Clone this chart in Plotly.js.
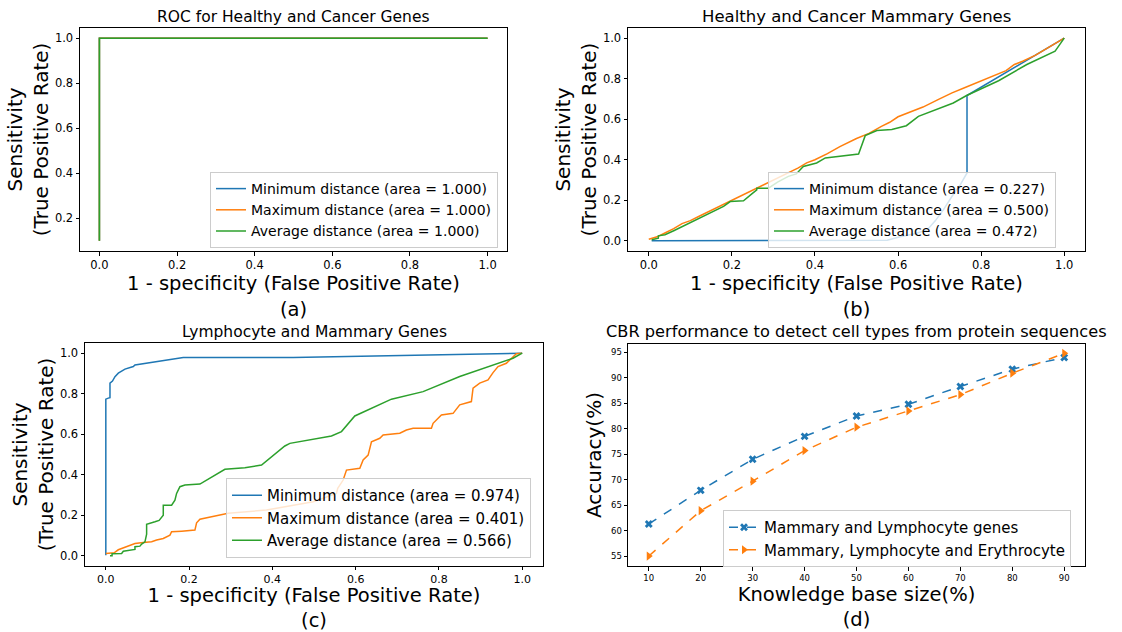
<!DOCTYPE html>
<html>
<head>
<meta charset="utf-8">
<script src="https://cdn.plot.ly/plotly-3.0.1.min.js"></script>
<style>
  html, body { margin: 0; padding: 0; background: #ffffff; }
  #chart { width: 1122px; height: 632px; }
</style>
</head>
<body>
<div id="chart"></div>
<script>
// ---- (a) ROC for Healthy and Cancer Genes ----
const aMinFpr = [0, 0, 1];
const aMinTpr = [0.1, 1, 1];
const aMaxFpr = [0, 0, 1];
const aMaxTpr = [0.1, 1, 1];
const aAvgFpr = [0, 0, 1];
const aAvgTpr = [0.1, 1, 1];

// ---- (b) Healthy and Cancer Mammary Genes ----
const bMinFpr = [0.007, 0.574, 0.605, 0.64, 0.67, 0.69, 0.709, 0.73, 0.75, 0.766, 0.766, 1.0];
const bMinTpr = [0.0, 0.003, 0.02, 0.035, 0.054, 0.1, 0.153, 0.22, 0.277, 0.335, 0.717, 1.0];
const bMaxFpr = [0.0, 0.02, 0.04, 0.06, 0.08, 0.1, 0.12, 0.15, 0.18, 0.2, 0.23, 0.26, 0.3, 0.33, 0.36, 0.38, 0.4, 0.43, 0.46, 0.5, 0.53, 0.56, 0.58, 0.6, 0.63, 0.66, 0.7, 0.73, 0.76, 0.8, 0.83, 0.86, 0.88, 0.9, 0.93, 0.96, 1.0];
const bMaxTpr = [0.008, 0.02, 0.04, 0.06, 0.085, 0.1, 0.12, 0.15, 0.18, 0.2, 0.23, 0.26, 0.3, 0.33, 0.36, 0.385, 0.4, 0.43, 0.465, 0.505, 0.53, 0.565, 0.585, 0.612, 0.635, 0.66, 0.7, 0.73, 0.755, 0.79, 0.815, 0.84, 0.87, 0.886, 0.915, 0.95, 1.0];
const bAvgFpr = [0.007, 0.023, 0.023, 0.039, 0.06, 0.08, 0.1, 0.12, 0.14, 0.16, 0.18, 0.196, 0.228, 0.248, 0.26, 0.26, 0.288, 0.31, 0.336, 0.355, 0.372, 0.404, 0.425, 0.505, 0.521, 0.549, 0.585, 0.62, 0.649, 0.733, 0.765, 0.842, 0.91, 0.978, 1.0];
const bAvgTpr = [0.005, 0.013, 0.025, 0.03, 0.05, 0.07, 0.09, 0.11, 0.128, 0.15, 0.17, 0.194, 0.198, 0.232, 0.252, 0.26, 0.26, 0.29, 0.318, 0.33, 0.367, 0.384, 0.409, 0.428, 0.519, 0.544, 0.549, 0.568, 0.614, 0.68, 0.717, 0.79, 0.87, 0.936, 1.0];

// ---- (c) Lymphocyte and Mammary Genes ----
const cMinFpr = [0, 0, 0.006, 0.01, 0.01, 0.016, 0.022, 0.03, 0.046, 0.066, 0.07, 0.186, 0.45, 0.75, 1.0];
const cMinTpr = [0.003, 0.773, 0.778, 0.78, 0.852, 0.862, 0.884, 0.901, 0.921, 0.934, 0.942, 0.978, 0.978, 0.99, 1.0];
const cMaxFpr = [0, 0.02, 0.03, 0.046, 0.07, 0.09, 0.11, 0.122, 0.138, 0.154, 0.158, 0.182, 0.214, 0.218, 0.226, 0.254, 0.294, 0.386, 0.498, 0.554, 0.557, 0.57, 0.578, 0.61, 0.618, 0.63, 0.638, 0.658, 0.666, 0.706, 0.722, 0.738, 0.782, 0.786, 0.806, 0.834, 0.85, 0.878, 0.882, 0.898, 0.918, 0.93, 0.942, 0.962, 0.974, 0.986, 1.0];
const cMaxTpr = [0.012, 0.015, 0.03, 0.041, 0.061, 0.066, 0.07, 0.078, 0.086, 0.102, 0.119, 0.122, 0.127, 0.163, 0.181, 0.193, 0.21, 0.226, 0.267, 0.308, 0.333, 0.374, 0.423, 0.432, 0.473, 0.497, 0.563, 0.58, 0.596, 0.605, 0.621, 0.629, 0.629, 0.654, 0.695, 0.703, 0.745, 0.761, 0.827, 0.852, 0.868, 0.904, 0.934, 0.95, 0.975, 0.997, 1.0];
const cAvgFpr = [0.01, 0.015, 0.015, 0.038, 0.042, 0.07, 0.07, 0.082, 0.086, 0.094, 0.098, 0.098, 0.118, 0.128, 0.138, 0.138, 0.158, 0.166, 0.17, 0.178, 0.19, 0.226, 0.286, 0.334, 0.374, 0.43, 0.442, 0.542, 0.566, 0.598, 0.686, 0.762, 0.85, 0.978, 1.0];
const cAvgTpr = [0.0, 0.0, 0.01, 0.012, 0.023, 0.032, 0.045, 0.048, 0.058, 0.069, 0.107, 0.156, 0.168, 0.175, 0.2, 0.25, 0.25, 0.275, 0.308, 0.341, 0.349, 0.354, 0.427, 0.435, 0.448, 0.542, 0.555, 0.591, 0.613, 0.69, 0.773, 0.81, 0.885, 0.975, 1.0];

// ---- (d) CBR performance ----
const kbSize = [10, 20, 30, 40, 50, 60, 70, 80, 90];
const accMammaryLymph = [61.3, 67.9, 74.0, 78.5, 82.5, 84.8, 88.3, 91.7, 94.0];
const accMammaryLymphEry = [55.0, 63.9, 69.7, 75.7, 80.3, 83.5, 86.7, 90.9, 94.8];

const rocNames = ['Minimum distance', 'Maximum distance', 'Average distance'];
const aAreas = ['1.000', '1.000', '1.000'];
const bAreas = ['0.227', '0.500', '0.472'];
const cAreas = ['0.974', '0.401', '0.566'];
const dNames = ['Mammary and Lymphocyte genes', 'Mammary, Lymphocyte and Erythrocyte'];

const C_BLUE = '#1f77b4', C_ORANGE = '#ff7f0e', C_GREEN = '#2ca02c';
const FONT = 'DejaVu Sans, sans-serif';

function rocTraces(sets, areas, xa, ya, legendId) {
  const colors = [C_BLUE, C_ORANGE, C_GREEN];
  return sets.map((s, i) => ({
    type: 'scatter', mode: 'lines',
    x: s[0], y: s[1], xaxis: xa, yaxis: ya,
    name: rocNames[i] + ' (area = ' + areas[i] + ')',
    line: { color: colors[i], width: 1.5 },
    legend: legendId, hoverinfo: 'x+y'
  }));
}

const traces = [].concat(
  rocTraces([[aMinFpr, aMinTpr], [aMaxFpr, aMaxTpr], [aAvgFpr, aAvgTpr]], aAreas, 'x', 'y', 'legend'),
  rocTraces([[bMinFpr, bMinTpr], [bMaxFpr, bMaxTpr], [bAvgFpr, bAvgTpr]], bAreas, 'x2', 'y2', 'legend2'),
  rocTraces([[cMinFpr, cMinTpr], [cMaxFpr, cMaxTpr], [cAvgFpr, cAvgTpr]], cAreas, 'x3', 'y3', 'legend3'),
  [
    { type: 'scatter', mode: 'lines+markers', x: kbSize, y: accMammaryLymph,
      xaxis: 'x4', yaxis: 'y4', name: dNames[0], legend: 'legend4',
      line: { color: C_BLUE, width: 1.5, dash: 'dash' },
      marker: { symbol: 'x', size: 7, color: C_BLUE } },
    { type: 'scatter', mode: 'lines+markers', x: kbSize, y: accMammaryLymphEry,
      xaxis: 'x4', yaxis: 'y4', name: dNames[1], legend: 'legend4',
      line: { color: C_ORANGE, width: 1.5, dash: 'dash' },
      marker: { symbol: 'triangle-right', size: 8, color: C_ORANGE } }
  ]
);

const W = 1122, H = 632;
const px = v => v / W;
const py = v => 1 - v / H;

function axisBase(extra) {
  return Object.assign({
    showline: true, mirror: true, linecolor: '#000000', linewidth: 1,
    ticks: 'outside', ticklen: 3.5, tickcolor: '#000000', tickwidth: 1,
    showgrid: false, zeroline: false, automargin: false,
    tickfont: { family: FONT, size: 11.5, color: '#000000' }
  }, extra);
}

const rocX = (dom, label, anchor, standoff, tickSize, tickLen) => axisBase({
  domain: dom, anchor: anchor, range: [-0.05, 1.05],
  ticklen: tickLen,
  tickfont: { family: FONT, size: tickSize, color: '#000000' },
  tickvals: [0, 0.2, 0.4, 0.6, 0.8, 1.0], ticktext: ['0.0', '0.2', '0.4', '0.6', '0.8', '1.0'],
  title: { text: '1 - specificity (False Positive Rate)<br>' + label, standoff: standoff,
           font: { family: FONT, size: 19.5, color: '#000000' } }
});
const rocY = (dom, range, vals, anchor) => axisBase({
  domain: dom, anchor: anchor, range: range,
  tickvals: vals, ticktext: vals.map(v => v.toFixed(1)),
  title: { text: 'Sensitivity<br>(True Positive Rate)', standoff: 0,
           font: { family: FONT, size: 20, color: '#000000' } }
});

const legendBase = (x, y, size) => ({
  x: x, y: y, xanchor: 'left', yanchor: 'top', xref: 'paper', yref: 'paper',
  bgcolor: 'rgba(255,255,255,0.8)', bordercolor: '#cccccc', borderwidth: 1,
  font: { family: FONT, size: size, color: '#000000' },
  tracegroupgap: 0, itemwidth: 30
});

const titleAnn = (text, xc, ybot, size) => ({
  text: text, x: px(xc), y: py(ybot), xref: 'paper', yref: 'paper',
  xanchor: 'center', yanchor: 'bottom', showarrow: false,
  font: { family: FONT, size: size, color: '#000000' }
});

const layout = {
  width: W, height: H, autosize: false,
  margin: { l: 0, r: 0, t: 0, b: 0 },
  paper_bgcolor: '#ffffff', plot_bgcolor: '#ffffff',
  font: { family: FONT, color: '#000000' },
  showlegend: true,
  xaxis: rocX([px(80), px(507)], '(a)', 'y', 2, 11.5, 3.5),
  yaxis: rocY([py(251), py(28)], [0.055, 1.045], [0.2, 0.4, 0.6, 0.8, 1.0], 'x'),
  xaxis2: rocX([px(628), px(1085)], '(b)', 'y2', 2, 11.5, 3.5),
  yaxis2: rocY([py(251), py(28)], [-0.05, 1.05], [0, 0.2, 0.4, 0.6, 0.8, 1.0], 'x2'),
  xaxis3: rocX([px(85), px(543)], '(c)', 'y3', 2, 11, 2.5),
  yaxis3: rocY([py(566), py(343)], [-0.05, 1.05], [0, 0.2, 0.4, 0.6, 0.8, 1.0], 'x3'),
  xaxis4: axisBase({
    domain: [px(628), px(1085)], anchor: 'y4', range: [6, 94],
    tickvals: kbSize, tickfont: { family: FONT, size: 8.5, color: '#000000' },
    title: { text: 'Knowledge base size(%)<br>(d)', standoff: 3,
             font: { family: FONT, size: 19.5, color: '#000000' } }
  }),
  yaxis4: axisBase({
    domain: [py(566), py(344)], anchor: 'x4', range: [53.04, 96.64],
    tickvals: [55, 60, 65, 70, 75, 80, 85, 90, 95],
    tickfont: { family: FONT, size: 8.5, color: '#000000' },
    title: { text: 'Accuracy(%)', standoff: 3,
             font: { family: FONT, size: 20, color: '#000000' } }
  }),
  legend: legendBase(px(210), py(172), 14),
  legend2: legendBase(px(768), py(172), 14),
  legend3: legendBase(px(226), py(478), 15),
  legend4: legendBase(px(723), py(510), 15),
  annotations: [
    titleAnn('ROC for Healthy and Cancer Genes', 293.5, 28, 15.5),
    titleAnn('Healthy and Cancer Mammary Genes', 856.5, 28, 16.5),
    titleAnn('Lymphocyte and Mammary Genes', 314, 343, 15.5),
    titleAnn('CBR performance to detect cell types from protein sequences', 856.5, 343, 16.2)
  ]
};

Plotly.newPlot('chart', traces, layout, { displayModeBar: false, staticPlot: true });
</script>
</body>
</html>
